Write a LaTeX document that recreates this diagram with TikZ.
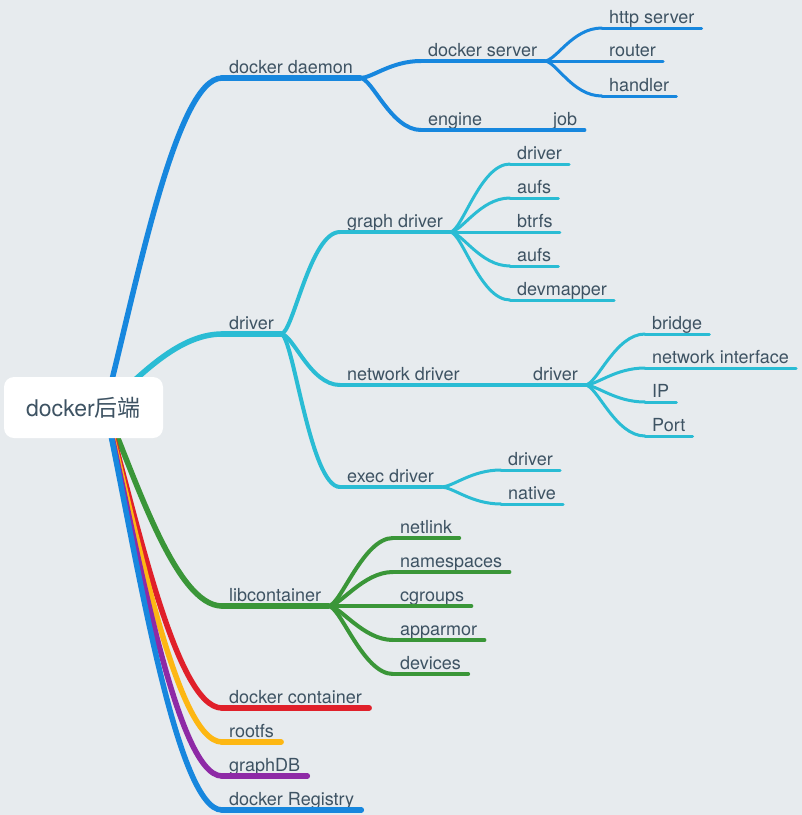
\documentclass[tikz,border=0pt]{standalone}
\usepackage{fontspec}
\setmainfont{TeX Gyre Heros}
\newfontfamily\cjk{Noto Sans CJK SC}
\pgfdeclarelayer{background}
\pgfsetlayers{background,main}
\definecolor{bgcol}{HTML}{E7EBEE}
\definecolor{inkcol}{HTML}{3E5363}
\definecolor{dblue}{HTML}{1787DE}
\definecolor{dcyan}{HTML}{2ABCD4}
\definecolor{dgreen}{HTML}{3A9638}
\definecolor{dred}{HTML}{E0202A}
\definecolor{dorange}{HTML}{FDB713}
\definecolor{dpurple}{HTML}{8E2AA6}
\tikzstyle{rootnode}=[fill=white, rounded corners=10pt, minimum width=159pt, minimum height=61pt, inner sep=0pt, text=inkcol, font=\fontsize{23}{23}\selectfont]
\tikzstyle{topic}=[anchor=south west, inner xsep=7pt, inner ysep=4.5pt, text depth=0pt, text=inkcol, font=\fontsize{18}{18}\selectfont]
\tikzstyle{branch}=[line width=5.5pt, line cap=round]
\tikzstyle{twig}=[line width=4pt, line cap=round]
\tikzstyle{leaf}=[line width=3pt, line cap=round]

\begin{document}
\begin{tikzpicture}[x=1pt, y=-1pt]
	\begin{pgfonlayer}{background}
		\fill[bgcol] (0,0) rectangle (802,815);
	\end{pgfonlayer}
	\useasboundingbox (0,0) rectangle (802,815);

	% the centre topic
	\node[rootnode] (root) at (83.5,407.5) {docker{\cjk 后端}};
	\coordinate (hub) at (105,407);

	% first level, straight from the centre
	\foreach \pos/\name/\txt/\col/\cy in {{(222,78)/daemon/docker daemon/dblue/-109},
			{(222,334)/driver/driver/dcyan/-24}, {(222,606)/libc/libcontainer/dgreen/66},
			{(222,708)/container/docker container/dred/99}, {(222,742)/rootfs/rootfs/dorange/110},
			{(222,776)/graphdb/graphDB/dpurple/121}, {(222,810)/registry/docker Registry/dblue/133}}
	{
		\node[topic] (\name) at \pos {\txt};
		\draw[branch, \col] (\name.south west) -- (\name.south east);
		\begin{pgfonlayer}{background}
			\draw[branch, \col] (hub) .. controls +(29,\cy) and +(-47,0) .. (\name.south west);
		\end{pgfonlayer}
	}

	% second level
	\foreach \pos/\name/\txt/\col in {{(421,61)/dserver/docker server/dblue}, {(421,130)/engine/engine/dblue},
			{(340,232)/gdrv/graph driver/dcyan}, {(340,385)/ndrv/network driver/dcyan},
			{(340,487)/edrv/exec driver/dcyan}, {(393,538)/netlink/netlink/dgreen},
			{(393,572)/nspaces/namespaces/dgreen}, {(393,606)/cgroups/cgroups/dgreen},
			{(393,640)/apparmor/apparmor/dgreen}, {(393,674)/devices/devices/dgreen},
			{(546,130)/job/job/dblue}, {(526,385)/ndd/driver/dcyan}}
	{
		\node[topic] (\name) at \pos {\txt};
		\draw[twig, \col] (\name.south west) -- (\name.south east);
	}

	% the leaves
	\foreach \pos/\name/\txt/\col in {{(602,28)/http/http server/dblue}, {(602,61)/router/router/dblue},
			{(602,96)/handler/handler/dblue}, {(510,164)/gdone/driver/dcyan}, {(510,198)/gdtwo/aufs/dcyan},
			{(510,232)/gdthree/btrfs/dcyan}, {(510,266)/gdfour/aufs/dcyan}, {(510,300)/gdfive/devmapper/dcyan},
			{(645,334)/bridge/bridge/dcyan}, {(645,368)/netif/network interface/dcyan},
			{(645,402)/ip/IP/dcyan}, {(645,436)/port/Port/dcyan},
			{(501,470)/edone/driver/dcyan}, {(501,504)/edtwo/native/dcyan}}
	{
		\node[topic] (\name) at \pos {\txt};
		\draw[leaf, \col] (\name.south west) -- (\name.south east);
	}

	% connect the topics
	\begin{pgfonlayer}{background}
		\foreach \source/\dest/\col in {daemon/dserver/dblue, daemon/engine/dblue, driver/gdrv/dcyan,
				driver/ndrv/dcyan, driver/edrv/dcyan, libc/netlink/dgreen, libc/nspaces/dgreen,
				libc/cgroups/dgreen, libc/apparmor/dgreen, libc/devices/dgreen,
				engine/job/dblue, ndrv/ndd/dcyan}
		\draw[twig, \col] (\source.south east) .. controls +(12,0) and +(-30,0) .. (\dest.south west);

		\foreach \source/\dest/\col in {dserver/http/dblue, dserver/router/dblue, dserver/handler/dblue,
				gdrv/gdone/dcyan, gdrv/gdtwo/dcyan, gdrv/gdthree/dcyan, gdrv/gdfour/dcyan, gdrv/gdfive/dcyan,
				ndd/bridge/dcyan, ndd/netif/dcyan, ndd/ip/dcyan, ndd/port/dcyan,
				edrv/edone/dcyan, edrv/edtwo/dcyan}
		\draw[leaf, \col] (\source.south east) .. controls +(12,0) and +(-30,0) .. (\dest.south west);
	\end{pgfonlayer}
\end{tikzpicture}
\end{document}
